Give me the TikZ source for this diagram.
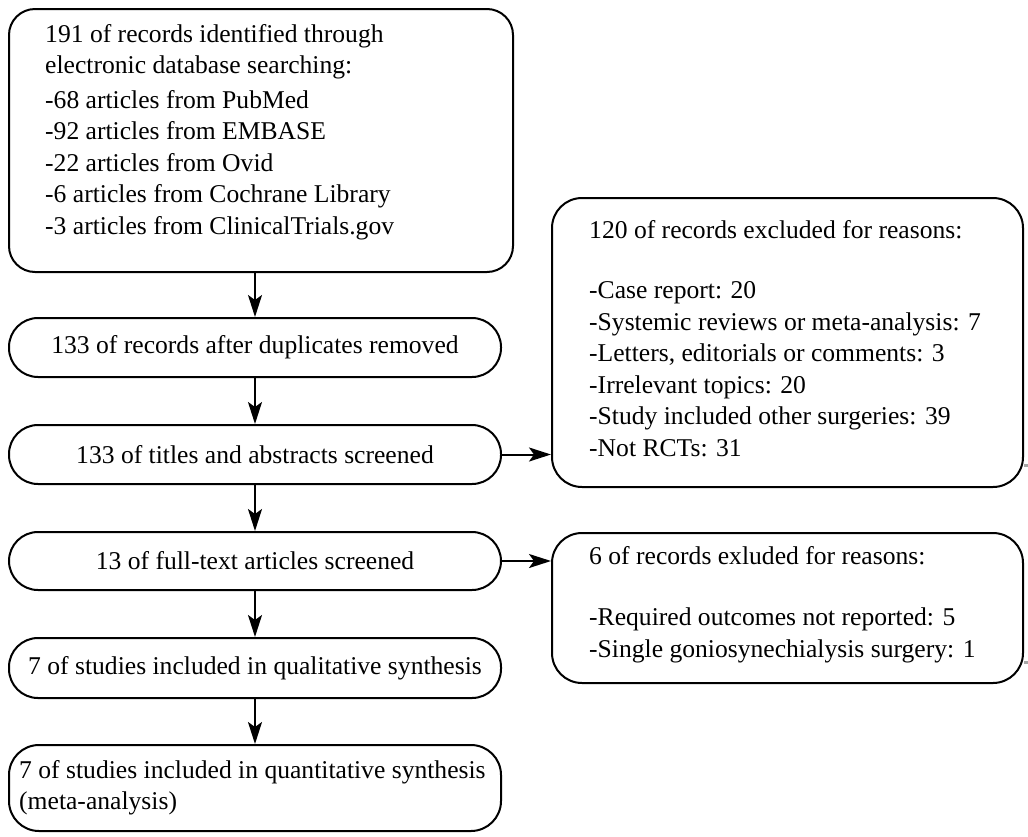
\documentclass[tikz,border=0pt]{standalone}
\usepackage{fontspec}
\setmainfont{Liberation Serif}
\usetikzlibrary{arrows.meta}
\begin{document}
\begin{tikzpicture}[x=1pt,y=-1pt,
  box/.style={draw=black, line width=2pt, rounded corners=30pt, inner sep=0pt, anchor=north west},
  pill/.style={draw=black, line width=2pt, rounded corners=29pt, inner sep=0pt, anchor=north west,
    font=\fontsize{25.6}{31.5}\selectfont},
  txt/.style={inner sep=0pt, align=left, anchor=north west, font=\fontsize{25.6}{31.5}\selectfont},
  arr/.style={line width=2pt, -{Stealth[length=22pt,width=14pt,inset=5pt]}},
  shade/.style={draw=black!35, line width=3pt},
]
\useasboundingbox (0,0) rectangle (1028,836);

% left column
\node[box, rounded corners=26pt, minimum width=504pt, minimum height=263pt] (b1) at (8,8) {};
\node[txt] (t1) at (45,24) {191 of records identified through\\
electronic database searching:\\[3pt]
-68 articles from PubMed\\
-92 articles from EMBASE\\
-22 articles from Ovid\\
-6 articles from Cochrane Library\\
-3 articles from ClinicalTrials.gov};

\node[pill, minimum width=492pt, minimum height=59pt] (b2) at (8,317) {133 of records after duplicates removed};
\node[pill, minimum width=492pt, minimum height=59pt] (b3) at (8,424) {133 of titles and abstracts screened};
\node[pill, minimum width=492pt, minimum height=58pt] (b4) at (8,531) {13 of full-text articles screened};
\node[pill, minimum width=492pt, minimum height=60pt] (b5) at (8,637) {7 of studies included in qualitative synthesis};
\node[box, minimum width=492pt, minimum height=86pt] (b6) at (8,744) {};
\node[txt] (t6) at (19,760) {7 of studies included in quantitative synthesis\\(meta-analysis)};

% right column
\node[box, minimum width=471pt, minimum height=289pt] (bA) at (551,197) {};
\node[txt] (tA) at (589,220) {120 of records excluded for reasons:\\[29pt]
-Case report: 20\\
-Systemic reviews or meta-analysis: 7\\
-Letters, editorials or comments: 3\\
-Irrelevant topics: 20\\
-Study included other surgeries: 39\\
-Not RCTs: 31};

\node[box, minimum width=471pt, minimum height=150pt] (bB) at (551,532) {};
\node[txt] (tB) at (589,546) {6 of records exluded for reasons:\\[30pt]
-Required outcomes not reported: 5\\
-Single goniosynechialysis surgery: 1};

% connectors
\draw[arr] (b2.north |- b1.south) -- (b2.north);
\draw[arr] (b2.south) -- (b3.north);
\draw[arr] (b3.south) -- (b4.north);
\draw[arr] (b4.south) -- (b5.north);
\draw[arr] (b5.south) -- (b6.north);
\draw[arr] (b3.east) -- (b3.east -| bA.west);
\draw[arr] (b4.east) -- (b4.east -| bB.west);

% faint marks at the right edge
\coordinate (mA) at (1028,465);
\coordinate (mB) at (1028,662);
\draw[shade] (mA -| bA.east) -- (mA);
\draw[shade] (mB -| bB.east) -- (mB);
\end{tikzpicture}
\end{document}
